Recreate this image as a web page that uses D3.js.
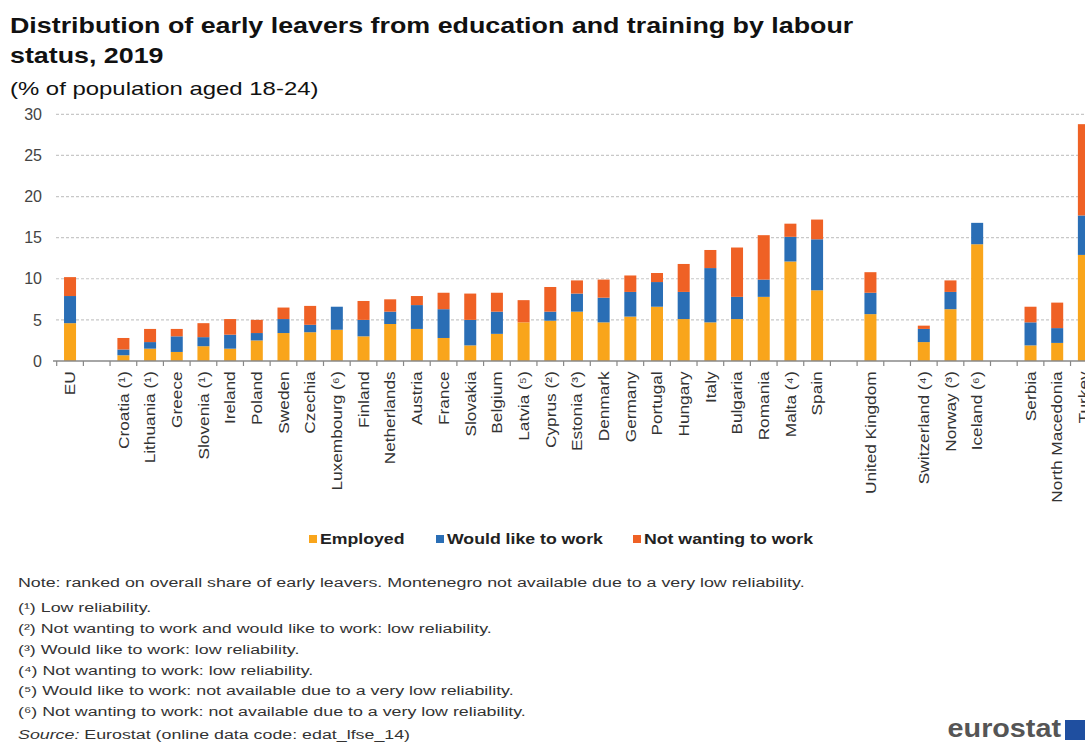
<!DOCTYPE html>
<html>
<head>
<meta charset="utf-8">
<script src="https://cdn.jsdelivr.net/npm/d3@7"></script>
<style>
  html, body { margin: 0; padding: 0; background: #fff; }
  svg { display: block; font-family: "Liberation Sans", Arial, sans-serif; }
</style>
</head>
<body>
<svg id="chart" width="1085" height="744"></svg>
<script>
const categories = ["EU", "", "Croatia (¹)", "Lithuania (¹)", "Greece", "Slovenia (¹)", "Ireland", "Poland",
  "Sweden", "Czechia", "Luxembourg (⁶)", "Finland", "Netherlands", "Austria", "France", "Slovakia",
  "Belgium", "Latvia (⁵)", "Cyprus (²)", "Estonia (³)", "Denmark", "Germany", "Portugal", "Hungary",
  "Italy", "Bulgaria", "Romania", "Malta (⁴)", "Spain", "", "United Kingdom", "", "Switzerland (⁴)",
  "Norway (³)", "Iceland (⁶)", "", "Serbia", "North Macedonia", "Turkey"];
const employed = [4.6, null, 0.7, 1.5, 1.1, 1.8, 1.5, 2.5, 3.4, 3.5, 3.8, 3.0, 4.5, 3.9, 2.8, 1.9, 3.3, 4.7, 4.9, 6.0,
  4.7, 5.4, 6.6, 5.1, 4.7, 5.1, 7.8, 12.1, 8.6, null, 5.7, null, 2.3, 6.3, 14.2, null, 1.9, 2.2, 12.9];
const wouldLike = [3.3, null, 0.7, 0.8, 1.9, 1.1, 1.7, 0.9, 1.7, 0.9, 2.8, 2.0, 1.5, 2.9, 3.5, 3.1, 2.7, 0, 1.1, 2.2,
  3.0, 3.0, 3.0, 3.3, 6.6, 2.7, 2.1, 3.0, 6.2, null, 2.6, null, 1.6, 2.1, 2.6, null, 2.8, 1.8, 4.8];
const notWanting = [2.3, null, 1.4, 1.6, 0.9, 1.7, 1.9, 1.6, 1.4, 2.3, 0, 2.3, 1.5, 1.1, 2.0, 3.2, 2.3, 2.7, 3.0, 1.6,
  2.2, 2.0, 1.1, 3.4, 2.2, 6.0, 5.4, 1.6, 2.4, null, 2.5, null, 0.4, 1.4, 0, null, 1.9, 3.1, 11.1];
const seriesNames = ["Employed", "Would like to work", "Not wanting to work"];
const seriesColors = ["#F9A51B", "#2A6EB5", "#EF6125"];
const yTicks = [0, 5, 10, 15, 20, 25, 30];
const notes = [
  "Note: ranked on overall share of early leavers. Montenegro not available due to a very low reliability.",
  "(¹) Low reliability.",
  "(²) Not wanting to work and would like to work: low reliability.",
  "(³) Would like to work: low reliability.",
  "(⁴) Not wanting to work: low reliability.",
  "(⁵) Would like to work: not available due to a very low reliability.",
  "(⁶) Not wanting to work: not available due to a very low reliability."
];

const svg = d3.select("#chart");
const rows = categories.map((c, i) => ({
  key: "k" + i, label: c,
  s0: employed[i] || 0, s1: wouldLike[i] || 0, s2: notWanting[i] || 0,
  gap: employed[i] === null
}));

const x = d3.scaleBand().domain(rows.map(r => r.key))
  .range([56.7, 56.7 + 39 * 26.68]).paddingInner(0.55).paddingOuter(0.275);
const y = d3.scaleLinear().domain([0, 30]).range([361, 114.3]);

function stretchedText(parent, tx, ty, sx, size) {
  return parent.append("text")
    .attr("transform", `translate(${tx},${ty}) scale(${sx},1)`)
    .attr("font-size", size);
}

// Title
stretchedText(svg, 10, 33, 1.22, 22).attr("font-weight", "bold").attr("fill", "#111")
  .text("Distribution of early leavers from education and training by labour");
stretchedText(svg, 10, 63, 1.22, 22).attr("font-weight", "bold").attr("fill", "#111")
  .text("status, 2019");
stretchedText(svg, 10, 95, 1.33, 18).attr("fill", "#111")
  .text("(% of population aged 18-24)");

// gridlines
svg.append("g").selectAll("line").data(yTicks.filter(t => t > 0)).join("line")
  .attr("x1", 56).attr("x2", 1085).attr("y1", d => y(d)).attr("y2", d => y(d))
  .attr("stroke", "#c8c8c8").attr("stroke-width", 1.2).attr("stroke-dasharray", "3,2");

// y axis labels
const yAxis = svg.append("g").attr("transform", "translate(42,0)")
  .call(d3.axisLeft(y).tickValues(yTicks).tickSize(0).tickPadding(0));
yAxis.select(".domain").remove();
yAxis.selectAll("text").attr("font-size", 16).attr("fill", "#444").attr("font-family", "Liberation Sans, Arial, sans-serif");

// bars
const stack = d3.stack().keys(["s0", "s1", "s2"]);
const stacked = stack(rows.filter(r => !r.gap));
svg.append("g").selectAll("g").data(stacked).join("g")
  .attr("fill", (d, i) => seriesColors[i])
  .selectAll("rect").data(d => d).join("rect")
  .attr("x", d => x(d.data.key)).attr("width", x.bandwidth())
  .attr("y", d => y(d[1])).attr("height", d => Math.max(0, y(d[0]) - y(d[1])));

// x axis
svg.append("line").attr("x1", 53).attr("x2", 1085).attr("y1", y(0)).attr("y2", y(0))
  .attr("stroke", "#888").attr("stroke-width", 1.5);
const step = x.step();
svg.append("g").selectAll("line").data(rows).join("line")
  .attr("x1", d => x(d.key) + x.bandwidth() / 2 + step / 2)
  .attr("x2", d => x(d.key) + x.bandwidth() / 2 + step / 2)
  .attr("y1", y(0)).attr("y2", y(0) + 5).attr("stroke", "#888").attr("stroke-width", 1.2);
svg.append("line").attr("x1", 56.7).attr("x2", 56.7).attr("y1", y(0)).attr("y2", y(0) + 5)
  .attr("stroke", "#888").attr("stroke-width", 1.2);

const xAxis = svg.append("g").attr("transform", `translate(0,${y(0)})`)
  .call(d3.axisBottom(x).tickSize(0).tickFormat(k => rows.find(r => r.key === k).label));
xAxis.select(".domain").remove();
xAxis.selectAll("text")
  .attr("font-size", 15).attr("fill", "#333").attr("font-family", "Liberation Sans, Arial, sans-serif")
  .attr("transform", "rotate(-90) scale(1.15,1)").attr("text-anchor", "end")
  .attr("x", -9).attr("y", 0).attr("dy", "0.35em");

// legend
const legendX = [309, 436, 633];
const lg = svg.append("g").selectAll("g").data(seriesNames).join("g")
  .attr("transform", (d, i) => `translate(${legendX[i]},539)`);
lg.append("rect").attr("x", 0).attr("y", -4).attr("width", 8).attr("height", 8).attr("fill", (d, i) => seriesColors[i]);
lg.append("text").attr("transform", "translate(11,5) scale(1.18,1)").attr("font-size", 15)
  .attr("font-weight", "bold").attr("fill", "#222").text(d => d);

// notes
const noteY = [587, 612, 633, 654, 675, 695, 716];
svg.append("g").selectAll("text").data(notes).join("text")
  .attr("transform", (d, i) => `translate(18,${noteY[i]}) scale(1.32,1)`)
  .attr("font-size", 13.5).attr("fill", "#333").text(d => d);
const src = stretchedText(svg, 18, 739, 1.32, 13.5).attr("fill", "#333");
src.append("tspan").attr("font-style", "italic").text("Source:");
src.append("tspan").text(" Eurostat (online data code: edat_lfse_14)");

// logo
svg.append("text").attr("transform", "translate(1061,737) scale(1.15,1)").attr("text-anchor", "end").attr("font-size", 25)
  .attr("font-weight", "bold").attr("fill", "#555").text("eurostat");
svg.append("rect").attr("x", 1065).attr("y", 720).attr("width", 22).attr("height", 20).attr("fill", "#1f4fa0");
</script>
</body>
</html>
